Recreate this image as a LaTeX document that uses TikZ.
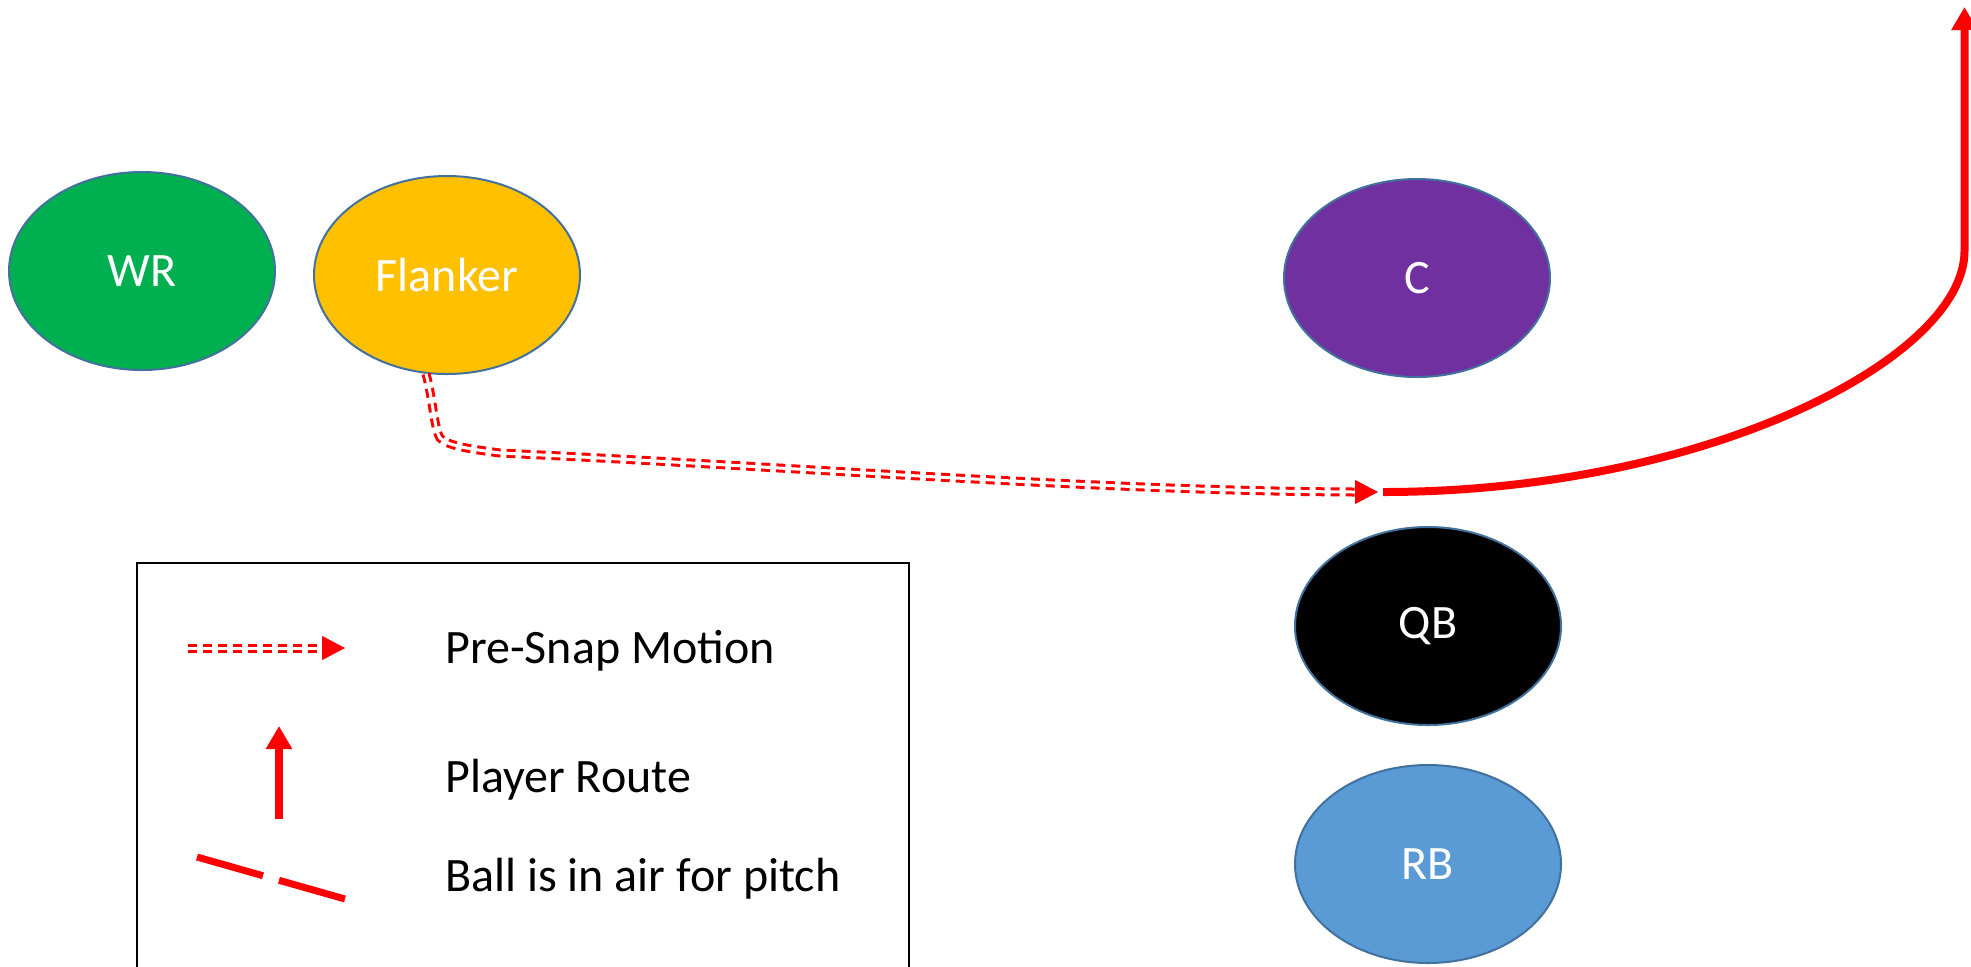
\documentclass[tikz,border=0pt]{standalone}
\usepackage{fontspec}
\setmainfont{Carlito}
\usetikzlibrary{arrows.meta,shapes.geometric}
\definecolor{edgeblue}{HTML}{41719C}
\definecolor{wrgreen}{HTML}{00B050}
\definecolor{flankgold}{HTML}{FFC000}
\definecolor{cpurple}{HTML}{7030A0}
\definecolor{rbblue}{HTML}{5B9BD5}
\begin{document}
\begin{tikzpicture}[x=0.5pt,y=-0.5pt,
  player/.style={ellipse, draw=edgeblue, line width=1pt, minimum width=133pt, minimum height=99pt, inner sep=0pt, text=white, font=\fontsize{24}{28}\selectfont},
  motionline/.style={red, line width=4.5pt, dash pattern=on 4.5pt off 3pt},
  motioncore/.style={white, line width=1.5pt},
  motionhead/.style={red, line width=0.5pt, -{Triangle[length=11.5pt,width=12pt]}},
  routeline/.style={red, line width=4pt, -{Triangle[length=11.5pt,width=12.5pt]}},
  pitchline/.style={red, line width=3.5pt, dash pattern=on 34.3pt off 8.3pt},
  legendtext/.style={anchor=base west, inner sep=0pt, font=\fontsize{24}{28}\selectfont}]
\useasboundingbox (0,0) rectangle (1971,966);

% players
\node[player, fill=wrgreen] (WR) at (142,271) {WR};
\node[player, fill=flankgold] (F) at (447,275) {Flanker};
\node[player, fill=cpurple] (C) at (1417,278) {C};
\node[player, fill=black] (QB) at (1428,626) {QB};
\node[player, fill=rbblue] (RB) at (1428,864) {RB};

% pre-snap motion
\coordinate (mBase) at (1355,492);
\coordinate (mEnd) at (1378,492);
\coordinate (rStart) at (1383,492);
\coordinate (rTurn) at (1964.5,251);
\coordinate (rTip) at (1964.5,7);
\draw[motionline] (F.258) .. controls (433,400) and (434,428) .. (440,438) .. controls (448,446) and (470,449) .. (500,453) .. controls (800,467) and (1100,491) .. (mBase);
\draw[motioncore] (F.258) .. controls (433,400) and (434,428) .. (440,438) .. controls (448,446) and (470,449) .. (500,453) .. controls (800,467) and (1100,491) .. (mBase);
\draw[motionhead] (mBase) -- (mEnd);

% route
\draw[routeline] (rStart) .. controls (1704,492) and (1964.5,359) .. (rTurn) -- (rTip);

% legend
\draw[line width=1pt] (137,1000) -- (137,563) -- (909,563) -- (909,1000);
\coordinate (l1a) at (188,648);
\coordinate (l1b) at (322,648);
\coordinate (l1c) at (345,648);
\draw[motionline] (l1a) -- (l1b);
\draw[motioncore] (l1a) -- (l1b);
\draw[motionhead] (l1b) -- (l1c);
\node[legendtext] (t1) at (445,663) {Pre-Snap Motion};

\coordinate (l2a) at (279,819);
\coordinate (l2b) at (279,726);
\draw[routeline] (l2a) -- (l2b);
\node[legendtext] (t2) at (445,792) {Player Route};

\coordinate (l3a) at (197,857);
\coordinate (l3b) at (345,899);
\draw[pitchline] (l3a) -- (l3b);
\node[legendtext] (t3) at (445,891) {Ball is in air for pitch};
\end{tikzpicture}
\end{document}
